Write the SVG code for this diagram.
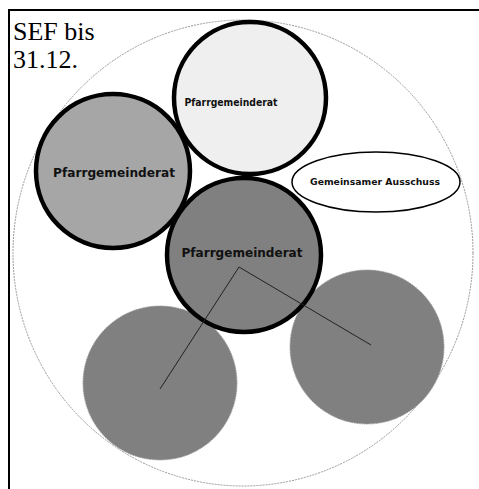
<svg xmlns="http://www.w3.org/2000/svg" width="479" height="489" viewBox="0 0 479 489">
<style>
.big{fill:none;stroke:#999;stroke-width:1;stroke-dasharray:2 1}
.node{stroke:#000;stroke-width:4.5}
.sub{fill:#808080;stroke:#9a9a9a;stroke-width:1;stroke-dasharray:1.5 1}
.lbl{font-family:"DejaVu Sans",sans-serif;font-weight:bold;fill:#111;text-anchor:middle}
.ttl{font-family:"Liberation Serif",serif;font-size:26px;fill:#000}
.conn{stroke:#222;stroke-width:1;fill:none}
</style>
<rect x="0" y="0" width="479" height="489" fill="#fff"/>
<g id="frame">
<line x1="9" y1="10" x2="479" y2="10" stroke="#000" stroke-width="2"/>
<line x1="9" y1="9" x2="9" y2="489" stroke="#000" stroke-width="2"/>
</g>
<g id="title">
<text class="ttl" font-family="Liberation Serif" x="13" y="40">SEF bis</text>
<text class="ttl" font-family="Liberation Serif" x="13" y="68">31.12.</text>
</g>
<g id="outer"><ellipse class="big" cx="243" cy="253" rx="230" ry="233"/></g>
<g id="sub-left"><circle class="sub" cx="160" cy="383" r="77"/></g>
<g id="sub-right"><circle class="sub" cx="367" cy="347" r="77"/></g>
<g id="pgr-top"><circle class="node" fill="#efefef" cx="250" cy="98" r="76"/>
<text class="lbl" x="231" y="106" font-size="10" textLength="93" lengthAdjust="spacingAndGlyphs">Pfarrgemeinderat</text></g>
<g id="pgr-left"><circle class="node" fill="#a6a6a6" cx="113" cy="171" r="77"/>
<text class="lbl" x="114" y="177" font-size="12" textLength="122" lengthAdjust="spacingAndGlyphs">Pfarrgemeinderat</text></g>
<g id="pgr-center"><circle class="node" fill="#808080" cx="244" cy="255" r="77"/>
<text class="lbl" x="242" y="257" font-size="12" textLength="121" lengthAdjust="spacingAndGlyphs">Pfarrgemeinderat</text></g>
<g id="ausschuss"><ellipse cx="376" cy="182" rx="84" ry="30" fill="#fff" stroke="#000" stroke-width="1.5"/>
<text class="lbl" x="375" y="185" font-size="9" textLength="130" lengthAdjust="spacingAndGlyphs">Gemeinsamer Ausschuss</text></g>
<g id="connectors">
<polyline class="conn" points="160,389 239,267 371,345"/>
</g>
</svg>
